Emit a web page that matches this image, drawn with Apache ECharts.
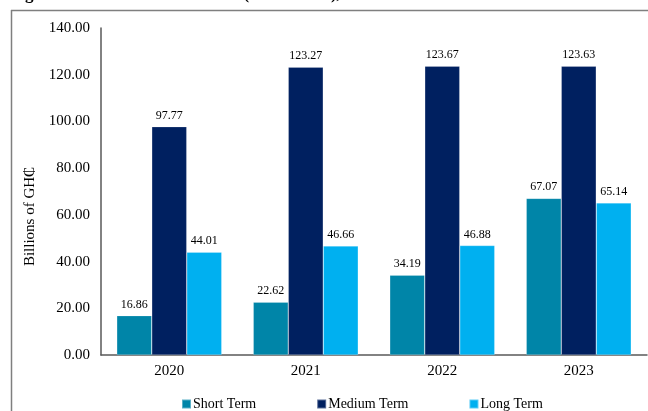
<!DOCTYPE html>
<html>
<head>
<meta charset="utf-8">
<script src="https://cdn.jsdelivr.net/npm/echarts@6/dist/echarts.min.js"></script>
<style>html,body{margin:0;padding:0;background:#fff}#c{width:648px;height:411px}</style>
</head>
<body>
<div id="c"></div>
<script>
var categories = ['2020', '2021', '2022', '2023'];
var shortTerm = [16.86, 22.62, 34.19, 67.07];
var mediumTerm = [97.77, 123.27, 123.67, 123.63];
var longTerm = [44.01, 46.66, 46.88, 65.14];
var seriesNames = ['Short Term', 'Medium Term', 'Long Term'];
var titleText = 'Figure 11: Domestic Debt Stock (Provisional), 2020-2023';
var yAxisName = 'Billions of GH\u20B5';

var font = '"Liberation Serif", "Times New Roman", serif';
var chart = echarts.init(document.getElementById('c'), null, {renderer: 'canvas'});
function bar(name, data, color) {
  return {
    name: name, type: 'bar', data: data, barWidth: 35, barGap: '0%',
    itemStyle: {color: color, borderColor: 'rgba(255,255,255,0.35)', borderWidth: 0.6},
    label: {show: true, position: 'top', distance: 5, color: '#000', fontFamily: font, fontSize: 12,
      formatter: function (p) { return p.value.toFixed(2); }}
  };
}
chart.setOption({
  animation: false,
  textStyle: {fontFamily: font},
  graphic: [
    {type: 'text', left: 10, top: -14, style: {text: titleText, font: 'bold 17px ' + font, fill: '#000'}},
    {type: 'line', shape: {x1: 11, y1: 10.5, x2: 648, y2: 10.5}, style: {stroke: '#7f7f7f', lineWidth: 1.5}},
    {type: 'line', shape: {x1: 11.5, y1: 10, x2: 11.5, y2: 411}, style: {stroke: '#7f7f7f', lineWidth: 1.5}}
  ],
  legend: {
    data: seriesNames, left: 176, top: 392, itemWidth: 9, itemHeight: 9, itemGap: 60, icon: 'rect',
    textStyle: {fontFamily: font, fontSize: 14, color: '#000', padding: [0, 0, 0, -3]}
  },
  grid: {left: 101, right: 1, top: 28, bottom: 56},
  xAxis: {
    type: 'category', data: categories,
    axisLine: {lineStyle: {color: '#595959', width: 1.5}},
    axisTick: {show: false},
    axisLabel: {color: '#000', fontFamily: font, fontSize: 15, margin: 9}
  },
  yAxis: {
    type: 'value', min: 0, max: 140, interval: 20,
    name: yAxisName, nameLocation: 'middle', nameGap: 56, nameRotate: 90,
    nameTextStyle: {fontFamily: font, fontSize: 15, color: '#000', padding: [0, 50, 0, 0]},
    axisLine: {show: true, lineStyle: {color: '#595959', width: 1.5}},
    axisTick: {show: false},
    splitLine: {show: false},
    axisLabel: {color: '#000', fontFamily: font, fontSize: 15, margin: 11,
      formatter: function (v) { return v.toFixed(2); }}
  },
  series: [
    bar(seriesNames[0], shortTerm, '#0085A8'),
    bar(seriesNames[1], mediumTerm, '#002060'),
    bar(seriesNames[2], longTerm, '#00B0F0')
  ]
});
</script>
</body>
</html>
